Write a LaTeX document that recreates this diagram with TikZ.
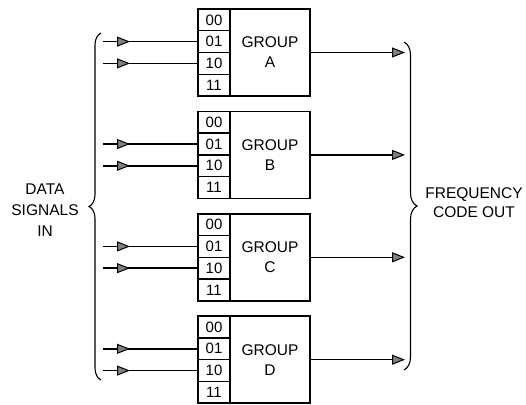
\documentclass[tikz,border=0pt]{standalone}
\usepackage{fontspec}
\setmainfont{Liberation Sans}
\usetikzlibrary{positioning,arrows.meta,decorations.markings,decorations.pathreplacing}

\begin{document}
\begin{tikzpicture}[x=1pt, y=-1pt, line width=1.5pt,
		>={Triangle[length=13pt, width=10pt, fill=gray, line width=1pt]},
		code/.style={draw, minimum width=32pt, minimum height=21.75pt, inner sep=0pt, outer sep=0pt, font=\fontsize{15}{15}\selectfont},
		group/.style={draw, minimum width=80pt, minimum height=87pt, inner sep=0pt, outer sep=0pt, align=center, font=\fontsize{15.5}{20}\selectfont},
		feed/.style={postaction={decorate}, decoration={markings, mark=at position 27pt with {\arrow{>}}}},
		bracket/.style={line width=1.1pt, decorate, decoration={brace, amplitude=#1}}]
	\useasboundingbox (0,0) rectangle (526,404);
	% four groups, code cells stacked on the left
	\foreach \g [count=\i from 0] in {A,B,C,D} {
		\node[code] (\g00) at (214, 9+102.4*\i+10.875) {00};
		\node[code, below=0pt of \g00] (\g01) {01};
		\node[code, below=0pt of \g01] (\g10) {10};
		\node[code, below=0pt of \g10] (\g11) {11};
		\node[group, anchor=north west] (grp\g) at (\g00.north east) {GROUP\\\g};
		\coordinate[left=95pt of \g01.west] (in\g1);
		\coordinate[left=95pt of \g10.west] (in\g2);
		\coordinate[right=95pt of grp\g.east] (out\g);
		\draw[feed] (in\g1) -- (\g01.west);
		\draw[feed] (in\g2) -- (\g10.west);
		\draw[->] (grp\g.east) -- (out\g);
	}
	% brackets
	\coordinate (lbTop) at (101,33);
	\coordinate (lbBot) at (101,380);
	\draw[bracket=12pt] (lbBot) -- (lbTop);
	\coordinate (rbTop) at (404,42);
	\coordinate (rbBot) at (404,370);
	\draw[bracket=13pt] (rbTop) -- (rbBot);
	\node[align=center, font=\fontsize{15.5}{21}\selectfont] (dataIn) at (45,210) {DATA\\SIGNALS\\IN};
	\node[align=center, font=\fontsize{15.5}{19}\selectfont] (codeOut) at (474,203) {FREQUENCY\\CODE OUT};
\end{tikzpicture}
\end{document}
